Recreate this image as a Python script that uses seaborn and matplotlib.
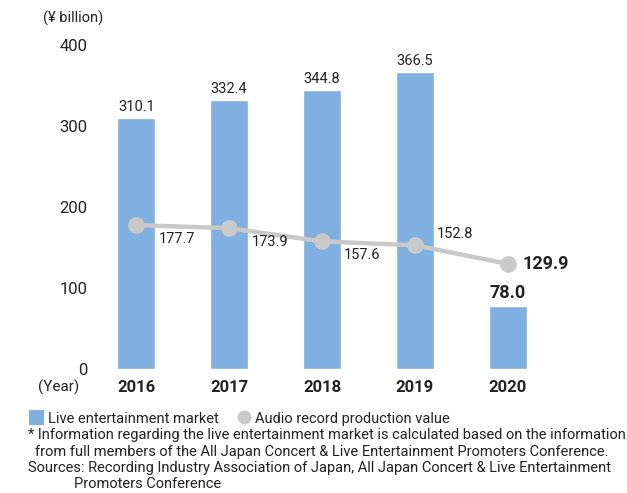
import matplotlib
matplotlib.use("Agg")
import matplotlib.pyplot as plt
import numpy as np
import pandas as pd
import seaborn as sns
from matplotlib.lines import Line2D
from matplotlib.patches import Patch

years = ["2016", "2017", "2018", "2019", "2020"]
live_market = [310.1, 332.4, 344.8, 366.5, 78.0]
audio_value = [177.7, 173.9, 157.6, 152.8, 129.9]
y_ticks = [0, 100, 200, 300, 400]

BAR_COLOR = "#80b0df"
LINE_COLOR = "#c9c9c9"
TEXT = "#222222"

sns.set_theme(style="white")
plt.rcParams["font.family"] = ["Roboto", "DejaVu Sans"]

df = pd.DataFrame({"year": years, "live": live_market, "audio": audio_value})

fig = plt.figure(figsize=(6.27, 4.93), dpi=100)
ax = fig.add_axes([0.1435, 0.2515, 0.74, 0.657])

sns.barplot(data=df, x="year", y="live", color=BAR_COLOR, width=0.41,
            saturation=1, ax=ax)
sns.lineplot(x=np.arange(len(years)), y=df["audio"], color=LINE_COLOR,
             linewidth=3.2, marker="o", markersize=12, markeredgewidth=0, ax=ax)

# bar value labels
for i, v in enumerate(live_market):
    bold = i == len(years) - 1
    ax.annotate(f"{v:.1f}", (i, v), xytext=(0, 3), textcoords="offset points",
                ha="center", va="bottom", color=TEXT,
                fontsize=13 if bold else 10.5,
                fontweight="bold" if bold else "normal")

# line value labels
offsets = [(16, -10), (16, -10), (16, -10), (16, 8), (11, 0)]
for i, (v, off) in enumerate(zip(audio_value, offsets)):
    bold = i == len(years) - 1
    ax.annotate(f"{v:.1f}", (i, v), xytext=off, textcoords="offset points",
                ha="left", va="center", color=TEXT,
                fontsize=13 if bold else 10.5,
                fontweight="bold" if bold else "normal")

ax.set_ylim(0, 400)
ax.set_xlim(-0.5, len(years) - 0.5)
ax.set_yticks(y_ticks)
ax.set_yticklabels([str(t) for t in y_ticks], fontsize=12, color=TEXT)
ax.set_xticks(range(len(years)))
ax.set_xticklabels(years, fontsize=12, fontweight="bold", color=TEXT)
ax.tick_params(axis="y", length=0, pad=2)
ax.tick_params(axis="x", length=0, pad=8)
ax.set_xlabel("")
ax.set_ylabel("")
sns.despine(ax=ax, left=True, bottom=True, top=True, right=True)

fig.text(0.068, 0.962, "(¥ billion)", fontsize=10.5, color=TEXT, ha="left", va="center")
fig.text(0.06, 0.215, "(Year)", fontsize=11, color=TEXT, ha="left", va="center")

handles = [Patch(facecolor=BAR_COLOR, edgecolor="none"),
           Line2D([0], [0], marker="o", color="none", markerfacecolor=LINE_COLOR,
                  markeredgewidth=0, markersize=10)]
fig.legend(handles, ["Live entertainment market", "Audio record production value"],
           loc="center left", bbox_to_anchor=(0.035, 0.152), ncol=2, frameon=False,
           fontsize=10.5, handlelength=1.0, handleheight=1.2, handletextpad=0.3,
           columnspacing=1.2, borderpad=0, labelcolor=TEXT)

notes = [
    (0.045, "* Information regarding the live entertainment market is calculated based on the information"),
    (0.056, "from full members of the All Japan Concert & Live Entertainment Promoters Conference."),
    (0.045, "Sources: Recording Industry Association of Japan, All Japan Concert & Live Entertainment"),
    (0.118, "Promoters Conference"),
]
for k, (x, s) in enumerate(notes):
    fig.text(x, 0.117 - k * 0.033, s, fontsize=10.5, color=TEXT, ha="left", va="center")

fig.savefig("out.png", dpi=100)
